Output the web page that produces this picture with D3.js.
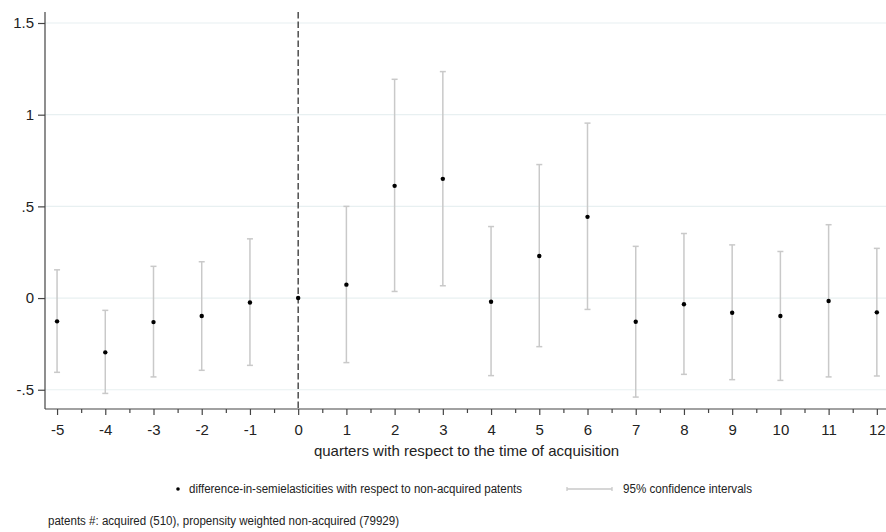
<!DOCTYPE html>
<html>
<head>
<meta charset="utf-8">
<script src="https://cdn.jsdelivr.net/npm/d3@7"></script>
<style>
  body { margin: 0; background: #fff; }
  svg { display: block; font-family: "Liberation Sans", Arial, sans-serif; }
</style>
</head>
<body>
<svg width="886" height="532"></svg>
<script>
// quarters relative to acquisition
const quarters = [-5, -4, -3, -2, -1, 0, 1, 2, 3, 4, 5, 6, 7, 8, 9, 10, 11, 12]
// point estimates
const estimates = [-0.127, -0.296, -0.131, -0.098, -0.024, 0, 0.073, 0.612, 0.65, -0.02, 0.229, 0.443, -0.129, -0.034, -0.08, -0.098, -0.016, -0.078]
// 95% CI bounds (null for the reference quarter)
const ciLow = [-0.405, -0.52, -0.43, -0.394, -0.367, null, -0.352, 0.036, 0.067, -0.423, -0.265, -0.062, -0.54, -0.416, -0.445, -0.449, -0.43, -0.425]
const ciHigh = [0.154, -0.067, 0.173, 0.198, 0.323, null, 0.5, 1.193, 1.235, 0.39, 0.728, 0.954, 0.282, 0.352, 0.29, 0.254, 0.4, 0.271]
const yTicks = [-0.5, 0, 0.5, 1, 1.5]

const svg = d3.select('svg')
const plotL = 45, plotR = 886, plotT = 12, plotB = 409

const x = d3.scaleLinear().domain([-5.25, 12.19]).range([plotL, plotR])
const y = d3.scaleLinear().domain([-0.605, 1.56]).range([plotB, plotT])

// stata style labels: .5, -.5, plain hyphen
const fmt = d => d === 0 ? '0' : String(d).replace('0.', '.')

// grid
svg.append('g')
  .selectAll('line')
  .data(yTicks)
  .join('line')
  .attr('x1', plotL).attr('x2', plotR)
  .attr('y1', d => y(d)).attr('y2', d => y(d))
  .attr('stroke', '#e8f0f1')
  .attr('stroke-width', 1.2)

// reference line at quarter 0
svg.append('line')
  .attr('x1', x(0)).attr('x2', x(0))
  .attr('y1', plotT).attr('y2', plotB)
  .attr('stroke', '#333')
  .attr('stroke-width', 1.3)
  .attr('stroke-dasharray', '6.5,3')

// confidence intervals
const rows = quarters.map((q, i) => ({ q, est: estimates[i], lo: ciLow[i], hi: ciHigh[i] }))
  .filter(d => d.lo !== null)
const ci = svg.append('g').attr('stroke', '#c9c9c9').attr('stroke-width', 1.5)
ci.selectAll('.ci').data(rows).join('line')
  .attr('x1', d => x(d.q)).attr('x2', d => x(d.q))
  .attr('y1', d => y(d.lo)).attr('y2', d => y(d.hi))
ci.selectAll('.caplo').data(rows).join('line')
  .attr('x1', d => x(d.q) - 3).attr('x2', d => x(d.q) + 3)
  .attr('y1', d => y(d.lo)).attr('y2', d => y(d.lo))
ci.selectAll('.caphi').data(rows).join('line')
  .attr('x1', d => x(d.q) - 3).attr('x2', d => x(d.q) + 3)
  .attr('y1', d => y(d.hi)).attr('y2', d => y(d.hi))

// points
svg.append('g')
  .selectAll('circle')
  .data(quarters)
  .join('circle')
  .attr('cx', d => x(d))
  .attr('cy', (d, i) => y(estimates[i]))
  .attr('r', 2.2)
  .attr('fill', '#000')

// axes
const yAxis = svg.append('g')
  .attr('transform', `translate(${plotL},0)`)
  .call(d3.axisLeft(y).tickValues(yTicks).tickFormat(fmt).tickSize(7).tickPadding(4))
yAxis.select('.domain').attr('d', `M0,${plotT}V${plotB}`)

const xAxis = svg.append('g')
  .attr('transform', `translate(0,${plotB})`)
  .call(d3.axisBottom(x).tickValues(quarters).tickFormat(fmt).tickSize(6).tickPadding(9))
xAxis.select('.domain').attr('d', `M${plotL},0H${plotR}`)

const minor = d3.range(-4.5, 12, 1)
svg.append('g')
  .attr('transform', `translate(0,${plotB})`)
  .call(d3.axisBottom(x).tickValues(minor).tickFormat('').tickSize(4))
  .select('.domain').remove()

svg.selectAll('.tick line, .domain').attr('stroke', '#444').attr('stroke-width', 1.2)
svg.selectAll('.tick text').attr('font-size', 15).attr('fill', '#222')
  .attr('font-family', '"Liberation Sans", Arial, sans-serif')

// axis title
svg.append('text')
  .attr('x', (plotL + plotR) / 2 + 1)
  .attr('y', 456)
  .attr('text-anchor', 'middle')
  .attr('font-size', 15)
  .attr('fill', '#222')
  .text('quarters with respect to the time of acquisition')

// legend
const ly = 489
svg.append('circle').attr('cx', 178).attr('cy', ly).attr('r', 1.8).attr('fill', '#000')
svg.append('text')
  .attr('x', 189).attr('y', ly + 4)
  .attr('font-size', 12).attr('fill', '#222')
  .attr('textLength', 333).attr('lengthAdjust', 'spacingAndGlyphs')
  .text('difference-in-semielasticities with respect to non-acquired patents')

const lg = svg.append('g').attr('stroke', '#c9c9c9').attr('stroke-width', 1.3)
lg.append('line').attr('x1', 567).attr('x2', 612).attr('y1', ly).attr('y2', ly)
lg.append('line').attr('x1', 567).attr('x2', 567).attr('y1', ly - 2).attr('y2', ly + 2)
lg.append('line').attr('x1', 612).attr('x2', 612).attr('y1', ly - 2).attr('y2', ly + 2)
svg.append('text')
  .attr('x', 623).attr('y', ly + 4)
  .attr('font-size', 12).attr('fill', '#222')
  .attr('textLength', 129).attr('lengthAdjust', 'spacingAndGlyphs')
  .text('95% confidence intervals')

// footnote
svg.append('text')
  .attr('x', 48).attr('y', 525)
  .attr('font-size', 12).attr('fill', '#222')
  .attr('textLength', 351).attr('lengthAdjust', 'spacingAndGlyphs')
  .text('patents #: acquired (510), propensity weighted non-acquired (79929)')
</script>
</body>
</html>
